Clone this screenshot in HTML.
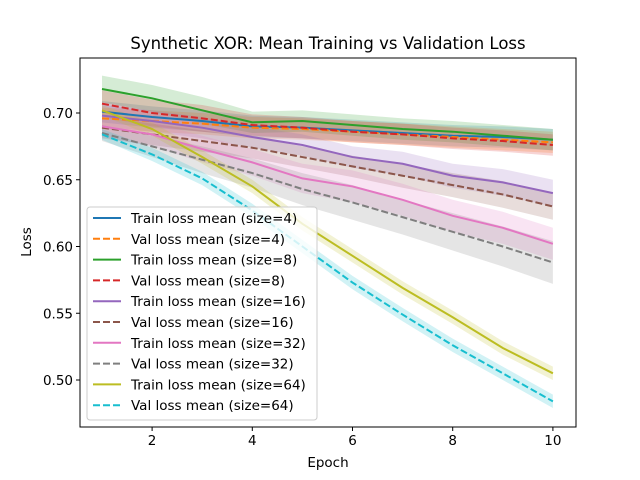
<!DOCTYPE html>
<html><head><meta charset="utf-8"><style>
body{margin:0;background:#fff;}
svg{display:block;font-family:"DejaVu Sans","Liberation Sans",sans-serif;}
</style></head><body>
<svg id="chart" width="640" height="480">
<rect width="640" height="480" fill="#fff"/>
<text x="328" y="49" font-size="16.5" text-anchor="middle">Synthetic XOR: Mean Training vs Validation Loss</text>
<g id="plot"></g>
<g id="axes"></g>
<g id="legend"></g>
<text x="328" y="467" font-size="13.5" text-anchor="middle">Epoch</text>
<text x="31" y="242" font-size="13.5" text-anchor="middle" transform="rotate(-90 31 242)">Loss</text>
</svg>
<script>
const epochs=[1,2,3,4,5,6,7,8,9,10];
const labels=["Train loss mean (size=4)","Val loss mean (size=4)","Train loss mean (size=8)","Val loss mean (size=8)","Train loss mean (size=16)","Val loss mean (size=16)","Train loss mean (size=32)","Val loss mean (size=32)","Train loss mean (size=64)","Val loss mean (size=64)"];
const train4=[0.701,0.697,0.694,0.690,0.689,0.687,0.685,0.683,0.682,0.680];
const val4=[0.696,0.694,0.692,0.689,0.688,0.686,0.684,0.682,0.680,0.678];
const train8=[0.718,0.711,0.702,0.693,0.694,0.691,0.688,0.686,0.683,0.680];
const val8=[0.707,0.700,0.696,0.691,0.689,0.686,0.684,0.681,0.679,0.676];
const train16=[0.698,0.694,0.689,0.682,0.676,0.667,0.662,0.653,0.648,0.640];
const val16=[0.689,0.684,0.679,0.674,0.667,0.660,0.653,0.646,0.639,0.630];
const train32=[0.690,0.684,0.673,0.663,0.651,0.645,0.635,0.623,0.614,0.602];
const val32=[0.685,0.675,0.665,0.655,0.643,0.633,0.622,0.611,0.600,0.588];
const train64=[0.702,0.688,0.667,0.645,0.617,0.593,0.569,0.547,0.524,0.505];
const val64=[0.684,0.669,0.651,0.627,0.600,0.573,0.549,0.526,0.505,0.484];
const std4=[0.008,0.008,0.008,0.008,0.008,0.008,0.008,0.008,0.008,0.008];
const std8=[0.010,0.010,0.010,0.008,0.008,0.008,0.008,0.008,0.008,0.008];
const std16=[0.008,0.008,0.008,0.008,0.008,0.008,0.009,0.009,0.010,0.010];
const std32=[0.008,0.009,0.010,0.010,0.011,0.012,0.012,0.012,0.012,0.012];
const std32v=[0.006,0.008,0.010,0.011,0.012,0.013,0.013,0.014,0.015,0.016];
const std64=[0.004,0.005,0.005,0.005,0.005,0.005,0.005,0.005,0.005,0.005];
const series=[train4,val4,train8,val8,train16,val16,train32,val32,train64,val64];
const stds=[std4,std4,std8,std8,std16,std16,std32,std32v,std64,std64];
const colors=["#1f77b4","#ff7f0e","#2ca02c","#d62728","#9467bd","#8c564b","#e377c2","#7f7f7f","#bcbd22","#17becf"];
const xTicks=[2,4,6,8,10];
const yTicks=[0.50,0.55,0.60,0.65,0.70];
const NS="http://www.w3.org/2000/svg";
const L=80,R=576,T=58,B=427;
function xs(e){return 102+(e-1)*50.1;}
function ys(v){return 113+(0.70-v)*1335;}
function mk(tag,attrs,parent){const el=document.createElementNS(NS,tag);for(const k in attrs)el.setAttribute(k,attrs[k]);parent.appendChild(el);return el;}
const plot=document.getElementById('plot'),axes=document.getElementById('axes'),leg=document.getElementById('legend');
series.forEach((s,i)=>{
  const sd=stds[i];
  let up=epochs.map((e,j)=>xs(e)+','+ys(s[j]+sd[j]));
  let dn=epochs.map((e,j)=>xs(e)+','+ys(s[j]-sd[j])).reverse();
  const band=mk('polygon',{points:up.concat(dn).join(' '),fill:colors[i],'fill-opacity':0.2},plot);
  
  
});
series.forEach((s,i)=>{
  const ln=mk('polyline',{points:epochs.map((e,j)=>xs(e)+','+ys(s[j])).join(' '),fill:'none',stroke:colors[i],'stroke-width':2,'stroke-dasharray':i%2?'7,3':'none'},plot);
  
  
});
const frame=mk('rect',{x:L,y:T,width:R-L,height:B-T,fill:'none',stroke:'#000','stroke-width':1},axes);


xTicks.forEach(t=>{
  const x=xs(t);
  mk('line',{x1:x,y1:B,x2:x,y2:B+4,stroke:'#000'},axes);
  const tx=mk('text',{x:x,y:B+18,'font-size':13.5,'text-anchor':'middle'},axes);tx.textContent=t;
  
  
});
yTicks.forEach(t=>{
  const y=ys(t);
  mk('line',{x1:L-4,y1:y,x2:L,y2:y,stroke:'#000'},axes);
  const tx=mk('text',{x:L-7,y:y+5,'font-size':13.5,'text-anchor':'end'},axes);tx.textContent=t.toFixed(2);
  
  
});
const lb=mk('rect',{x:87,y:207,width:230,height:213,rx:3,fill:'#fff','fill-opacity':0.8,stroke:'#ccc'},leg);


labels.forEach((t,i)=>{
  const y=218+i*20.8;
  mk('line',{x1:93,y1:y,x2:121,y2:y,stroke:colors[i],'stroke-width':2,'stroke-dasharray':i%2?'7,3':'none'},leg);
  const tx=mk('text',{x:131,y:y+5,'font-size':13.5},leg);tx.textContent=t;
  
  
});
</script>
</body></html>
